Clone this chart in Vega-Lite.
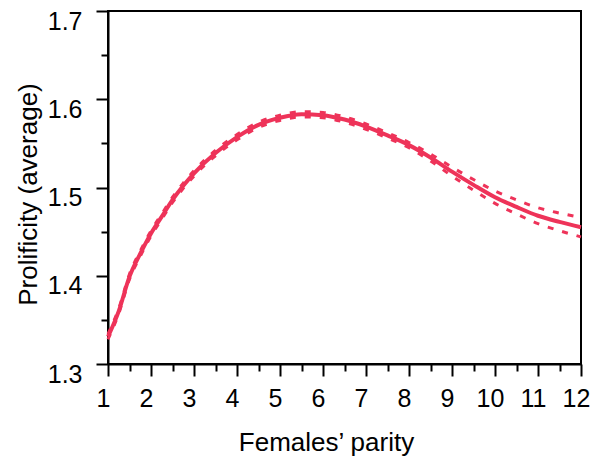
{
  "$schema": "https://vega.github.io/schema/vega-lite/v6.json",
  "width": 473,
  "height": 353,
  "autosize": "none",
  "padding": {"left": 108, "top": 11, "right": 16, "bottom": 92},
  "background": "white",
  "config": {
    "view": {"stroke": "black", "strokeWidth": 2},
    "font": "Liberation Sans",
    "axis": {
      "grid": false,
      "domainColor": "black",
      "domainWidth": 2,
      "tickColor": "black",
      "tickWidth": 2,
      "labelColor": "black",
      "titleColor": "black",
      "labelFont": "Liberation Sans",
      "titleFont": "Liberation Sans",
      "labelFontSize": 25,
      "titleFontSize": 26,
      "titleFontWeight": "normal",
      "labelOverlap": false
    }
  },
  "data": {
    "values": [
      {"parity": 1, "mean": 1.331, "lower": 1.328, "upper": 1.334},
      {"parity": 1.25, "mean": 1.36, "lower": 1.357, "upper": 1.363},
      {"parity": 1.5, "mean": 1.399, "lower": 1.396, "upper": 1.402},
      {"parity": 1.75, "mean": 1.425, "lower": 1.422, "upper": 1.428},
      {"parity": 2, "mean": 1.448, "lower": 1.445, "upper": 1.451},
      {"parity": 2.25, "mean": 1.467, "lower": 1.464, "upper": 1.47},
      {"parity": 2.5, "mean": 1.486, "lower": 1.483, "upper": 1.489},
      {"parity": 2.75, "mean": 1.502, "lower": 1.499, "upper": 1.505},
      {"parity": 3, "mean": 1.516, "lower": 1.513, "upper": 1.519},
      {"parity": 3.5, "mean": 1.539, "lower": 1.536, "upper": 1.542},
      {"parity": 4, "mean": 1.557, "lower": 1.554, "upper": 1.56},
      {"parity": 4.5, "mean": 1.571, "lower": 1.568, "upper": 1.574},
      {"parity": 5, "mean": 1.579, "lower": 1.576, "upper": 1.582},
      {"parity": 5.5, "mean": 1.583, "lower": 1.58, "upper": 1.586},
      {"parity": 6, "mean": 1.582, "lower": 1.579, "upper": 1.585},
      {"parity": 6.5, "mean": 1.577, "lower": 1.574, "upper": 1.58},
      {"parity": 7, "mean": 1.569, "lower": 1.566, "upper": 1.572},
      {"parity": 7.5, "mean": 1.559, "lower": 1.556, "upper": 1.562},
      {"parity": 8, "mean": 1.548, "lower": 1.545, "upper": 1.551},
      {"parity": 8.5, "mean": 1.534, "lower": 1.53, "upper": 1.538},
      {"parity": 9, "mean": 1.518, "lower": 1.513, "upper": 1.523},
      {"parity": 9.5, "mean": 1.503, "lower": 1.497, "upper": 1.509},
      {"parity": 10, "mean": 1.489, "lower": 1.482, "upper": 1.496},
      {"parity": 10.5, "mean": 1.478, "lower": 1.47, "upper": 1.486},
      {"parity": 11, "mean": 1.468, "lower": 1.459, "upper": 1.477},
      {"parity": 11.5, "mean": 1.461, "lower": 1.451, "upper": 1.471},
      {"parity": 12, "mean": 1.455, "lower": 1.444, "upper": 1.466}
    ]
  },
  "encoding": {
    "x": {
      "field": "parity",
      "type": "quantitative",
      "scale": {"domain": [1, 12], "nice": false, "zero": false},
      "axis": {
        "title": "Females’ parity",
        "values": [1, 1.5, 2, 2.5, 3, 3.5, 4, 4.5, 5, 5.5, 6, 6.5, 7, 7.5, 8, 8.5, 9, 9.5, 10, 10.5, 11, 11.5, 12],
        "labelExpr": "datum.value % 1 == 0 ? format(datum.value, 'd') : ''",
        "tickSize": {"condition": {"test": "datum.value % 1 != 0", "value": 7}, "value": 12},
        "labelPadding": 10,
        "labelOffset": -5,
        "labelFlush": false,
        "titleX": 218,
        "titleY": 86,
        "titleAlign": "center",
        "titleBaseline": "alphabetic"
      }
    }
  },
  "layer": [
    {
      "mark": {"type": "line", "color": "#EE3359", "strokeWidth": 4, "interpolate": "monotone"},
      "encoding": {
        "y": {
          "field": "mean",
          "type": "quantitative",
          "scale": {"domain": [1.3, 1.7], "nice": false, "zero": false},
          "axis": {
            "title": "Prolificity (average)",
            "values": [1.3, 1.325, 1.35, 1.375, 1.4, 1.425, 1.45, 1.475, 1.5, 1.525, 1.55, 1.575, 1.6, 1.625, 1.65, 1.675, 1.7],
            "labelExpr": "abs(datum.value*10 - round(datum.value*10)) < 0.001 ? format(datum.value, '.1f') : ''",
            "tickSize": {"condition": {"test": "abs(datum.value*10 - round(datum.value*10)) > 0.001", "value": 7}, "value": 12},
            "labelPadding": 14,
            "labelOffset": 10,
            "labelFlush": false,
            "titleX": -72,
            "titleY": 183,
            "titleAngle": -90,
            "titleAlign": "center",
            "titleBaseline": "alphabetic"
          }
        }
      }
    },
    {
      "mark": {"type": "line", "color": "#EE3359", "strokeWidth": 3, "strokeDash": [6, 9], "interpolate": "monotone"},
      "encoding": {"y": {"field": "upper", "type": "quantitative"}}
    },
    {
      "mark": {"type": "line", "color": "#EE3359", "strokeWidth": 3, "strokeDash": [6, 9], "interpolate": "monotone"},
      "encoding": {"y": {"field": "lower", "type": "quantitative"}}
    }
  ]
}
